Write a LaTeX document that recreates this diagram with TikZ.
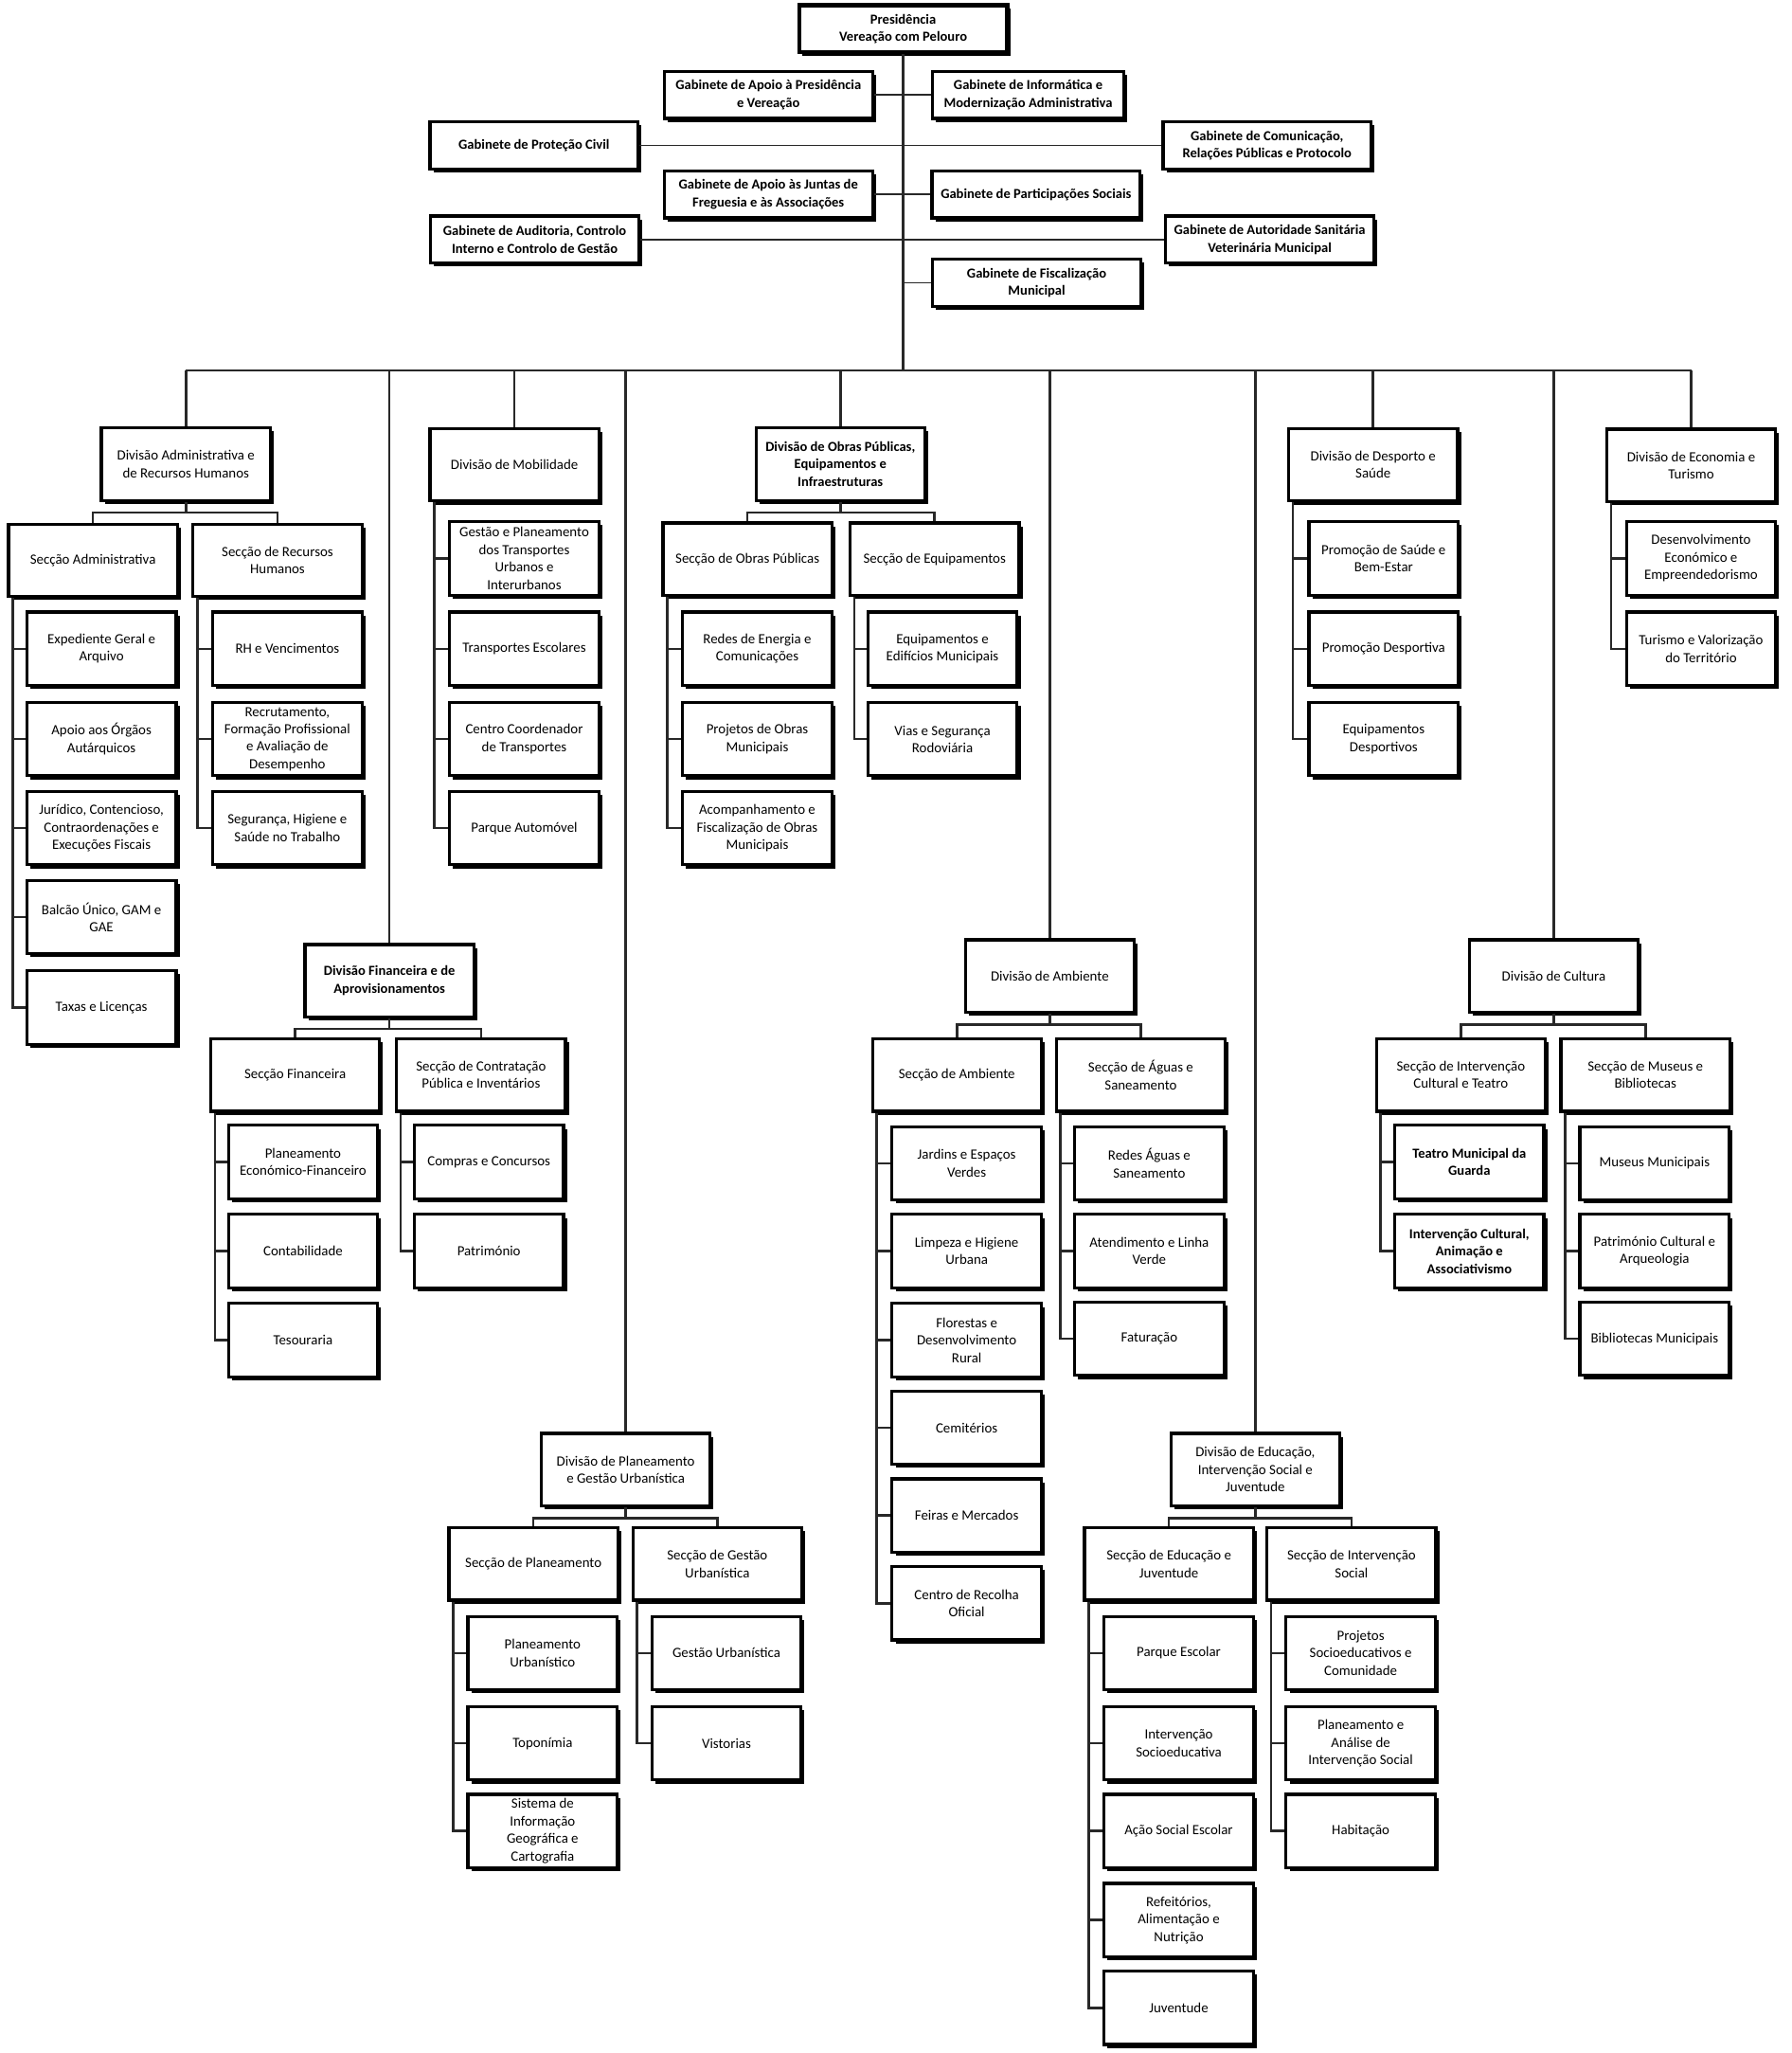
\documentclass[tikz,border=0pt]{standalone}
\usepackage{fontspec}
\setmainfont{Carlito}
\usetikzlibrary{positioning, shadows}
\definecolor{orgline}{RGB}{40,40,40}

\tikzset{
  box/.style={draw, line width=2pt, fill=white, align=center, inner sep=0.5pt,
    font=\fontsize{9.2}{11.4}\selectfont,
    drop shadow={shadow xshift=0.8mm, shadow yshift=-0.8mm, fill=black, opacity=1}},
  boldtext/.style={font=\fontsize{9}{11.4}\selectfont\bfseries},
  gabbox/.style={box, boldtext, minimum width=47.7mm, minimum height=10.8mm},
  divbox/.style={box, minimum width=38.7mm, minimum height=16.6mm},
  secbox/.style={divbox},
  unitbox/.style={box, minimum width=34.2mm, minimum height=16.8mm},
  link/.style={draw=orgline, line width=1.6pt},
  thinlink/.style={draw=orgline, line width=1pt},
}

\begin{document}
\begin{tikzpicture}[x=0.3mm, y=-0.3mm]
  \path[fill=white, use as bounding box] (0,0) rectangle (1369,1568);

  % presidencia e gabinetes
  \node[gabbox, line width=2.6pt] (pres) at (690,22) {Presidência\\Vereação com Pelouro};
  \node[gabbox] (gApoio) at (587,72.5) {Gabinete de Apoio à Presidência\\e Vereação};
  \node[gabbox, minimum width=43.8mm] (gInfo) at (785.5,72.5) {Gabinete de Informática e\\Modernização Administrativa};
  \node[gabbox] (gProt) at (408,111) {Gabinete de Proteção Civil};
  \node[gabbox] (gCom) at (968,111) {Gabinete de Comunicação,\\Relações Públicas e Protocolo};
  \node[gabbox] (gJuntas) at (587,148.5) {Gabinete de Apoio às Juntas de\\Freguesia e às Associações};
  \node[gabbox] (gPart) at (791.5,148.5) {Gabinete de Participações Sociais};
  \node[gabbox] (gAud) at (408.5,183) {Gabinete de Auditoria, Controlo\\Interno e Controlo de Gestão};
  \node[gabbox] (gVet) at (970,183) {Gabinete de Autoridade Sanitária\\Veterinária Municipal};
  \node[gabbox] (gFisc) at (792,216) {Gabinete de Fiscalização\\Municipal};
  \coordinate (bus) at (690,283);

  % divisoes
  \node[divbox] (dAdm) at (142,354.5) {Divisão Administrativa e\\de Recursos Humanos};
  \node[divbox] (dMob) at (393,355) {Divisão de Mobilidade};
  \node[divbox, boldtext] (dObr) at (642,354.5) {Divisão de Obras Públicas,\\Equipamentos e\\Infraestruturas};
  \node[divbox] (dDes) at (1049,355) {Divisão de Desporto e\\Saúde};
  \node[divbox] (dEco) at (1292,355.5) {Divisão de Economia e\\Turismo};
  \node[divbox, boldtext] (dFin) at (297.5,749) {Divisão Financeira e de\\Aprovisionamentos};
  \node[divbox] (dAmb) at (802,745.5) {Divisão de Ambiente};
  \node[divbox] (dCul) at (1187,745.5) {Divisão de Cultura};
  \node[divbox] (dPla) at (478,1122.5) {Divisão de Planeamento\\e Gestão Urbanística};
  \node[divbox] (dEdu) at (959,1122.5) {Divisão de Educação,\\Intervenção Social e\\Juventude};

  % seccoes
  \node[secbox] (sAdm) at (71,428) {Secção Administrativa};
  \node[secbox] (sRH) at (212,428) {Secção de Recursos\\Humanos};
  \node[secbox] (sObr) at (571,427) {Secção de Obras Públicas};
  \node[secbox] (sEqu) at (714,427) {Secção de Equipamentos};
  \node[secbox] (sFin) at (225.5,821) {Secção Financeira};
  \node[secbox] (sCon) at (367.5,821) {Secção de Contratação\\Pública e Inventários};
  \node[secbox] (sAmb) at (731,821) {Secção de Ambiente};
  \node[secbox] (sAgu) at (871.5,821) {Secção de Águas e\\Saneamento};
  \node[secbox] (sCul) at (1116,821) {Secção de Intervenção\\Cultural e Teatro};
  \node[secbox] (sMus) at (1257,821) {Secção de Museus e\\Bibliotecas};
  \node[secbox] (sPla) at (407.5,1194.5) {Secção de Planeamento};
  \node[secbox] (sGes) at (548,1194.5) {Secção de Gestão\\Urbanística};
  \node[secbox] (sEdu) at (893,1194.5) {Secção de Educação e\\Juventude};
  \node[secbox] (sSoc) at (1032.5,1194.5) {Secção de Intervenção\\Social};

  % unidades
  \node[unitbox] (adm1) at (77.5,495.5) {Expediente Geral e\\Arquivo};
  \node[unitbox] (adm2) at (77.5,564.5) {Apoio aos Órgãos\\Autárquicos};
  \node[unitbox] (adm3) at (77.5,632.5) {Jurídico, Contencioso,\\Contraordenações e\\Execuções Fiscais};
  \node[unitbox] (adm4) at (77.5,700.5) {Balcão Único, GAM e\\GAE};
  \node[unitbox] (adm5) at (77.5,769.5) {Taxas e Licenças};
  \node[unitbox] (rh1) at (219.5,495.5) {RH e Vencimentos};
  \node[unitbox] (rh2) at (219.5,564.5) {Recrutamento,\\Formação Profissional\\e Avaliação de\\Desempenho};
  \node[unitbox] (rh3) at (219.5,632.5) {Segurança, Higiene e\\Saúde no Trabalho};
  \node[unitbox] (mob1) at (400.5,426.5) {Gestão e Planeamento\\dos Transportes\\Urbanos e\\Interurbanos};
  \node[unitbox] (mob2) at (400.5,495.5) {Transportes Escolares};
  \node[unitbox] (mob3) at (400.5,564.5) {Centro Coordenador\\de Transportes};
  \node[unitbox] (mob4) at (400.5,632.5) {Parque Automóvel};
  \node[unitbox] (obr1) at (578.5,495.5) {Redes de Energia e\\Comunicações};
  \node[unitbox] (obr2) at (578.5,564.5) {Projetos de Obras\\Municipais};
  \node[unitbox] (obr3) at (578.5,632.5) {Acompanhamento e\\Fiscalização de Obras\\Municipais};
  \node[unitbox] (equ1) at (720,495.5) {Equipamentos e\\Edifícios Municipais};
  \node[unitbox] (equ2) at (720,564.5) {Vias e Segurança\\Rodoviária};
  \node[unitbox] (des1) at (1057,426.5) {Promoção de Saúde e\\Bem-Estar};
  \node[unitbox] (des2) at (1057,495.5) {Promoção Desportiva};
  \node[unitbox] (des3) at (1057,564.5) {Equipamentos\\Desportivos};
  \node[unitbox] (eco1) at (1299.5,426.5) {Desenvolvimento\\Económico e\\Empreendedorismo};
  \node[unitbox] (eco2) at (1299.5,495.5) {Turismo e Valorização\\do Território};
  \node[unitbox] (fin1) at (231.5,887.5) {Planeamento\\Económico-Financeiro};
  \node[unitbox] (fin2) at (231.5,955.5) {Contabilidade};
  \node[unitbox] (fin3) at (231.5,1023.5) {Tesouraria};
  \node[unitbox] (con1) at (373.5,887.5) {Compras e Concursos};
  \node[unitbox] (con2) at (373.5,955.5) {Património};
  \node[unitbox] (amb1) at (738.5,888.5) {Jardins e Espaços\\Verdes};
  \node[unitbox] (amb2) at (738.5,955.5) {Limpeza e Higiene\\Urbana};
  \node[unitbox] (amb3) at (738.5,1023.5) {Florestas e\\Desenvolvimento\\Rural};
  \node[unitbox] (amb4) at (738.5,1090.5) {Cemitérios};
  \node[unitbox] (amb5) at (738.5,1157.5) {Feiras e Mercados};
  \node[unitbox] (amb6) at (738.5,1224.5) {Centro de Recolha\\Oficial};
  \node[unitbox] (agu1) at (878,888.5) {Redes Águas e\\Saneamento};
  \node[unitbox] (agu2) at (878,955.5) {Atendimento e Linha\\Verde};
  \node[unitbox] (agu3) at (878,1022.5) {Faturação};
  \node[unitbox, boldtext] (cul1) at (1122.5,887.5) {Teatro Municipal da\\Guarda};
  \node[unitbox, boldtext] (cul2) at (1122.5,955.5) {Intervenção Cultural,\\Animação e\\Associativismo};
  \node[unitbox] (mus1) at (1264,888.5) {Museus Municipais};
  \node[unitbox] (mus2) at (1264,955.5) {Património Cultural e\\Arqueologia};
  \node[unitbox] (mus3) at (1264,1022.5) {Bibliotecas Municipais};
  \node[unitbox] (pla1) at (414.5,1262.5) {Planeamento\\Urbanístico};
  \node[unitbox] (pla2) at (414.5,1331.5) {Toponímia};
  \node[unitbox] (pla3) at (414.5,1398.5) {Sistema de\\Informação\\Geográfica e\\Cartografia};
  \node[unitbox] (ges1) at (555,1262.5) {Gestão Urbanística};
  \node[unitbox] (ges2) at (555,1331.5) {Vistorias};
  \node[unitbox] (edu1) at (900.5,1262.5) {Parque Escolar};
  \node[unitbox] (edu2) at (900.5,1331.5) {Intervenção\\Socioeducativa};
  \node[unitbox] (edu3) at (900.5,1398.5) {Ação Social Escolar};
  \node[unitbox] (edu4) at (900.5,1466.5) {Refeitórios,\\Alimentação e\\Nutrição};
  \node[unitbox] (edu5) at (900.5,1533.5) {Juventude};
  \node[unitbox] (soc1) at (1039.5,1262.5) {Projetos\\Socioeducativos e\\Comunidade};
  \node[unitbox] (soc2) at (1039.5,1331.5) {Planeamento e\\Análise de\\Intervenção Social};
  \node[unitbox] (soc3) at (1039.5,1398.5) {Habitação};

  % ligacoes
  \draw[link] (pres.south) -- (pres.south |- bus);
  \draw[thinlink] (gApoio.east) -- (gInfo.west);
  \draw[thinlink] (gProt.east) -- (gCom.west);
  \draw[thinlink] (gJuntas.east) -- (gPart.west);
  \draw[thinlink] (gAud.east) -- (gVet.west);
  \draw[thinlink] (gFisc.west) -- (gFisc.west -| pres.south);
  \draw[link] (dAdm.north |- bus) -- (dEco.north |- bus);
  \foreach \d in {dAdm, dFin, dMob, dPla, dObr, dAmb, dEdu, dDes, dCul, dEco}
    \draw[link] (\d.north) -- (\d.north |- bus);
  \foreach \d/\a/\b in {dAdm/sAdm/sRH, dObr/sObr/sEqu, dFin/sFin/sCon, dAmb/sAmb/sAgu,
      dCul/sCul/sMus, dPla/sPla/sGes, dEdu/sEdu/sSoc} {
    \draw[link] (\d.south) -- ([yshift=-2.4mm]\d.south);
    \draw[link] (\a.north) |- ([yshift=-2.4mm]\d.south) -| (\b.north);
  }
  \foreach \s/\u in {sAdm/adm1, sAdm/adm2, sAdm/adm3, sAdm/adm4, sAdm/adm5,
      sRH/rh1, sRH/rh2, sRH/rh3, dMob/mob1, dMob/mob2, dMob/mob3, dMob/mob4,
      sObr/obr1, sObr/obr2, sObr/obr3, sEqu/equ1, sEqu/equ2,
      dDes/des1, dDes/des2, dDes/des3, dEco/eco1, dEco/eco2,
      sFin/fin1, sFin/fin2, sFin/fin3, sCon/con1, sCon/con2,
      sAmb/amb1, sAmb/amb2, sAmb/amb3, sAmb/amb4, sAmb/amb5, sAmb/amb6,
      sAgu/agu1, sAgu/agu2, sAgu/agu3, sCul/cul1, sCul/cul2,
      sMus/mus1, sMus/mus2, sMus/mus3, sPla/pla1, sPla/pla2, sPla/pla3,
      sGes/ges1, sGes/ges2, sEdu/edu1, sEdu/edu2, sEdu/edu3, sEdu/edu4, sEdu/edu5,
      sSoc/soc1, sSoc/soc2, sSoc/soc3}
    \draw[link] ([xshift=1.3mm]\s.south west) |- (\u.west);
\end{tikzpicture}
\end{document}
